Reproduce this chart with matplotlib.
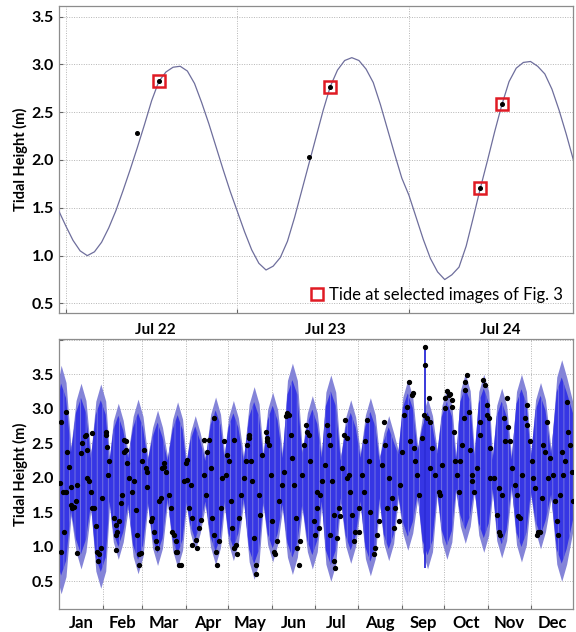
import numpy as np
import matplotlib
matplotlib.use("Agg")
import matplotlib.pyplot as plt
from matplotlib.lines import Line2D

plt.rcParams['font.family'] = ['Lato', 'DejaVu Sans']
plt.rcParams['hatch.linewidth'] = 0.6

# ---- top panel: hourly tide, Jul 22-24 (x in days from Jul 22 00:00)
hours = np.arange(-1, 72)
tide_hourly = [1.47, 1.31, 1.16, 1.05, 1.00, 1.04, 1.14, 1.29, 1.47, 1.68,
               1.90, 2.13, 2.37, 2.62, 2.82, 2.92, 2.97, 2.98, 2.93, 2.80,
               2.60, 2.38, 2.14, 1.90, 1.67, 1.46, 1.25, 1.06, 0.92, 0.85,
               0.89, 0.98, 1.15, 1.40, 1.68, 1.96, 2.24, 2.52, 2.77, 2.94,
               3.04, 3.07, 3.04, 2.95, 2.81, 2.58, 2.32, 2.06, 1.81, 1.63,
               1.40, 1.17, 0.97, 0.83, 0.75, 0.80, 0.88, 1.10, 1.40, 1.71,
               2.00, 2.30, 2.58, 2.82, 2.96, 3.02, 3.03, 2.98, 2.90, 2.74,
               2.52, 2.27, 2.00]
img_day = [0.414, 0.542, 1.417, 1.539, 2.414, 2.542]
img_tide = [2.28, 2.83, 2.03, 2.76, 1.71, 2.585]
selected = [1, 3, 4, 5]
top_labels = ['Jul 22', 'Jul 23', 'Jul 24']

# ---- bottom panel: yearly record (x in day of year)
env_day = [0, 1.5, 5.0, 8.5,
           12.1, 15.6, 19.1, 22.6, 26.1, 29.6, 33.1, 35.8,
           38.5, 42.0, 45.5, 49.0, 52.5, 56.0, 59.5, 62.9,
           66.3, 69.8, 73.3, 76.9, 80.5, 84.0, 87.5, 90.2,
           93.0, 96.5, 100.0, 103.7, 107.4, 110.9, 114.4, 117.2,
           120.0, 123.5, 127.0, 130.8, 134.7, 138.2, 141.7, 144.7,
           147.8, 151.3, 154.8, 158.3, 161.8, 165.3, 168.8, 172.3,
           175.9, 179.4, 182.9, 186.0, 189.0, 192.5, 196.0, 199.5,
           203.1, 206.6, 210.1, 213.5, 217.0, 220.5, 224.0, 227.0,
           230.0, 233.5, 237.0, 240.2, 243.5, 247.0, 250.5, 254.0,
           257.5, 261.0, 264.5, 267.8, 271.2, 274.7, 278.2, 281.2,
           284.2, 287.7, 291.2, 294.2, 297.3, 300.8, 304.3, 307.1,
           310.0, 313.5, 317.0, 320.5, 324.0, 327.5, 331.0, 334.2,
           337.5, 341.0, 344.5, 348.5, 352.5, 356.0, 359.5, 365.0]
env_hi = [3.45, 3.63, 3.38, 2.45,
          3.12, 3.37, 3.12, 2.35, 3.11, 3.36, 3.11, 2.30,
          2.83, 3.08, 2.83, 2.35, 2.89, 3.14, 2.89, 2.30,
          2.73, 2.98, 2.73, 2.30, 2.85, 3.10, 2.85, 2.25,
          2.65, 2.90, 2.65, 2.30, 2.92, 3.17, 2.92, 2.35,
          2.87, 3.12, 2.87, 2.30, 3.07, 3.32, 3.07, 2.35,
          2.99, 3.24, 2.99, 2.35, 3.41, 3.66, 3.41, 2.40,
          2.94, 3.19, 2.94, 2.35, 3.24, 3.49, 3.24, 2.30,
          2.88, 3.13, 2.88, 2.35, 2.91, 3.16, 2.91, 2.30,
          2.65, 2.90, 2.65, 2.40, 3.17, 3.42, 3.17, 2.45,
          2.90, 3.15, 2.90, 2.40, 3.05, 3.30, 3.05, 2.30,
          3.26, 3.51, 3.26, 2.35, 3.25, 3.50, 3.25, 2.30,
          3.05, 3.30, 3.05, 2.30, 3.25, 3.50, 3.25, 2.35,
          3.13, 3.38, 3.13, 2.40, 3.46, 3.71, 3.46, 3.00]
env_lo = [0.45, 0.32, 0.57, 1.45,
          0.93, 0.68, 0.93, 1.55, 0.65, 0.40, 0.65, 1.60,
          1.07, 0.82, 1.07, 1.55, 0.86, 0.61, 0.86, 1.60,
          0.98, 0.73, 0.98, 1.65, 0.95, 0.70, 0.95, 1.60,
          1.20, 0.95, 1.20, 1.60, 0.99, 0.74, 0.99, 1.60,
          1.05, 0.80, 1.05, 1.65, 0.78, 0.53, 0.78, 1.60,
          1.03, 0.78, 1.03, 1.55, 0.85, 0.60, 0.85, 1.55,
          0.93, 0.68, 0.93, 1.60, 0.75, 0.50, 0.75, 1.65,
          1.01, 0.76, 1.01, 1.60, 0.83, 0.58, 0.83, 1.65,
          1.05, 0.80, 1.05, 1.70, 1.20, 0.95, 1.20, 1.70,
          0.93, 0.68, 0.93, 1.75, 1.07, 0.82, 1.07, 1.80,
          1.30, 1.05, 1.30, 1.80, 1.17, 0.92, 1.17, 1.80,
          1.09, 0.84, 1.09, 1.85, 1.03, 0.78, 1.03, 1.75,
          1.22, 0.97, 1.22, 1.70, 0.75, 0.50, 0.75, 1.35]
spike_day = 258.9
spike_hi = 3.90
spike_lo = 0.69

obs_day = [0.6, 1.3, 4.8, 6.0, 7.2, 1.3, 3.6, 4.8, 8.3, 10.7, 11.9, 13.1, 13.1,
           15.4, 16.6, 18.5, 19.0, 20.1, 20.1, 21.3, 22.5, 23.7, 24.8, 26.0, 27.2,
           28.4, 27.9, 30.7, 33.1, 34.3, 35.5, 35.0, 39.0, 40.2, 40.2, 41.3,
           42.5, 43.7, 44.9, 46.0, 47.2, 47.2, 48.4, 49.6, 51.9, 54.3, 55.5,
           56.7, 56.7, 60.2, 61.4, 62.6, 62.6, 66.1, 67.3, 68.5, 69.6, 72.0,
           74.3, 74.4, 75.5, 77.9, 79.1, 80.2, 82.6, 83.8, 85.0, 88.5, 89.7,
           90.9, 90.9, 93.2, 94.4, 94.4, 96.8, 99.1, 100.3, 102.6, 102.7, 105.0,
           106.2, 107.4, 108.6, 109.7, 109.7, 110.9, 112.1, 114.5, 115.6, 118.0,
           119.2, 120.3, 121.5, 122.7, 123.8, 125.1, 126.2, 127.4, 131.0, 133.3,
           134.4, 134.5, 135.7, 136.8, 138.0, 139.2, 139.2, 141.6, 143.9, 146.3,
           147.5, 148.6, 149.8, 151.0, 152.2, 153.3, 155.7, 159.2, 161.1, 161.6,
           162.8, 164.0, 165.1, 166.3, 167.5, 168.7, 169.9, 172.2, 174.6, 175.8,
           178.1, 180.5, 181.6, 182.8, 184.0, 186.3, 188.7, 189.9, 191.0, 192.2,
           193.4, 194.6, 194.6, 195.7, 196.9, 199.3, 200.5, 201.6, 202.8, 204.0,
           205.2, 206.4, 207.5, 208.7, 209.9, 212.3, 214.6, 217.0, 218.2, 219.3,
           220.5, 222.9, 224.0, 226.4, 228.7, 229.9, 231.1, 233.5, 235.8, 237.0,
           238.2, 241.7, 244.1, 246.4, 247.6, 250.0, 251.0, 251.2, 252.3, 253.5,
           257.0, 258.2, 258.9, 259.4, 260.6, 261.8, 262.9, 264.1, 266.5, 268.8,
           271.2, 273.5, 273.5, 274.7, 277.1, 278.3, 279.4, 280.6, 281.8, 283.0,
           284.1, 286.5, 287.7, 288.9, 290.0, 291.2, 292.4, 293.6, 295.9, 298.3,
           300.6, 303.0, 304.2, 305.4, 307.7, 310.1, 311.3, 312.4, 313.6, 316.0,
           318.3, 319.5, 320.7, 323.0, 325.4, 326.6, 327.8, 330.1, 331.3, 333.6,
           334.8, 337.2, 338.4, 339.5, 341.9, 344.3, 345.4, 347.8, 350.1, 352.5,
           353.7, 356.0, 358.4, 359.6, 360.8, 363.1, 364.3,
           2.5, 8.3, 9.5, 23.7, 29.6, 33.1, 40.2, 46.1, 53.1, 57.9, 59.0, 64.9,
           70.8, 73.2, 81.4, 82.6, 86.1,
           92.1, 97.9, 103.8, 113.3, 116.8, 123.9, 128.6, 132.1, 142.7, 147.5,
           154.5, 158.1, 171.0, 173.4, 176.9, 182.8,
           185.1, 192.2, 198.1, 204.0, 212.2, 215.8, 225.2, 232.3, 240.5, 242.9,
           248.8, 254.7, 262.9, 270.0,
           275.9, 278.3, 285.3, 287.7, 292.4, 298.3, 301.8, 303.0, 305.4, 311.3,
           314.8, 317.1, 324.2, 331.3, 336.0, 340.7, 343.1, 346.6, 351.3, 354.9,
           357.2, 361.9]
obs_tide = [1.92, 2.81, 2.96, 2.38, 2.16, 0.93, 1.22, 1.80, 1.61, 1.58, 1.66, 0.91, 1.90,
            2.36, 2.50, 2.60, 2.62, 2.40, 1.99, 1.95, 1.80, 2.65, 1.56, 1.30, 0.93,
            0.89, 0.79, 1.71, 2.67, 2.45, 2.24, 2.04, 1.42, 1.17, 0.96, 1.22,
            1.37, 1.63, 1.75, 2.55, 2.53, 2.40, 2.21, 1.99, 1.80, 1.54, 1.17,
            0.89, 0.74, 2.40, 2.14, 2.09, 1.87, 1.42, 1.22, 1.08, 0.98, 1.71,
            2.21, 2.16, 2.09, 1.75, 1.56, 1.22, 1.08, 0.93, 0.74, 1.95, 2.21,
            2.26, 1.97, 1.90, 1.42, 1.03, 1.10, 1.27, 1.39, 2.55, 2.04, 2.38,
            2.55, 2.14, 1.42, 1.17, 2.87, 0.93, 0.74, 1.56, 1.99, 2.04,
            2.33, 2.24, 1.66, 1.27, 2.55, 1.03, 0.89, 1.42, 1.99, 2.48,
            2.62, 2.57, 2.24, 1.95, 1.13, 0.74, 0.60, 1.75, 2.33, 2.67,
            2.58, 2.48, 2.04, 1.37, 0.93, 0.89, 1.66, 2.09, 2.90, 2.94,
            2.91, 2.62, 2.28, 1.90, 1.42, 0.98, 0.74, 2.04, 2.77, 2.67,
            2.24, 1.37, 1.17, 1.56, 1.27, 1.95, 2.19, 2.77, 2.62, 2.48,
            1.95, 1.46, 0.79, 0.69, 1.13, 1.44, 2.14, 2.62, 2.84, 2.57,
            2.04, 1.80, 1.46, 1.08, 1.22, 1.56, 2.04, 2.53, 2.84, 2.24,
            1.51, 0.89, 0.98, 1.37, 2.19, 2.81, 2.48, 1.99, 1.71, 1.27,
            1.56, 1.90, 2.91, 3.03, 3.39, 3.20, 3.23, 2.43, 2.24, 2.04,
            2.57, 2.91, 3.90, 3.64, 2.86, 3.15, 2.81, 2.43, 2.04, 1.80,
            2.19, 3.01, 3.15, 3.25, 3.22, 3.03, 2.67, 2.24, 2.04, 1.80,
            2.24, 2.86, 3.39, 3.49, 2.96, 2.40, 1.95, 1.80, 2.14, 2.81,
            3.42, 3.06, 2.86, 2.43, 1.99, 1.46, 1.22, 1.17, 1.75, 2.53,
            2.74, 2.53, 2.14, 1.90, 1.44, 1.42, 2.04, 2.86, 3.06, 2.53,
            2.24, 1.85, 1.17, 1.22, 1.71, 2.38, 2.81, 2.28, 2.04, 1.37,
            1.17, 2.38, 2.24, 3.10, 2.67, 2.09, 1.66,
            1.80, 1.87, 1.56, 1.56, 0.98, 2.62, 1.32, 2.38, 1.95, 0.91, 2.24, 1.37,
            1.66, 2.14, 1.17, 0.93, 0.74,
            1.56, 0.98, 1.75, 1.08, 2.53, 0.98, 1.75, 2.24, 1.46, 2.53,
            1.08, 1.90, 1.08, 2.48, 2.62, 1.80,
            1.75, 1.17, 1.56, 1.99, 1.22, 1.80, 1.17, 1.56, 1.37, 2.38,
            2.53, 1.75, 2.14, 1.75,
            3.20, 3.13, 2.48, 3.27, 2.04, 2.62, 3.35, 2.91, 1.99, 1.85,
            2.86, 3.15, 1.75, 2.77, 1.99, 1.22, 2.48, 1.99, 1.66, 1.75,
            2.04, 2.48]
months = ['Jan', 'Feb', 'Mar', 'Apr', 'May', 'Jun', 'Jul', 'Aug', 'Sep',
          'Oct', 'Nov', 'Dec']
month_len = [31, 28, 31, 30, 31, 30, 31, 31, 30, 31, 30, 31]

frame_col = '#8c8c8c'
grid_kw = dict(color='#b5b5b5', linestyle=(0, (1, 1.5)), linewidth=0.7)

fig = plt.figure(figsize=(5.76, 6.32), dpi=100)
ax1 = fig.add_axes([0.1024, 0.5047, 0.8924, 0.4858])
ax2 = fig.add_axes([0.1024, 0.0364, 0.8924, 0.4272])

# top panel
t_day = hours / 24.0
ax1.plot(t_day, tide_hourly, color='#6e6e9c', lw=0.9, zorder=3)
ax1.plot(img_day, img_tide, 'o', color='black', ms=2.6, zorder=5)
sel_day = [img_day[i] for i in selected]
sel_tide = [img_tide[i] for i in selected]
ax1.plot(sel_day, sel_tide, 's', ms=8.5, mfc='none', mec='#e01b24', mew=1.8,
         zorder=4)
ax1.set_xlim(-0.04, 2.956)
ax1.set_ylim(0.40, 3.61)
ax1.set_yticks([0.5, 1.0, 1.5, 2.0, 2.5, 3.0, 3.5])
ax1.set_yticklabels(['0.5', '1.0', '1.5', '2.0', '2.5', '3.0', '3.5'])
ax1.set_xticks([0, 1, 2])
ax1.set_xticklabels([])
ax1.set_xticks([0.52, 1.51, 2.53], minor=True)
ax1.set_xticklabels(top_labels, minor=True)
ax1.tick_params(axis='x', which='minor', length=0, pad=7, labelsize=11)
ax1.set_ylabel('Tidal Height (m)', fontsize=10.5, fontweight='bold', labelpad=3)
leg = ax1.legend([Line2D([], [], ls='none', marker='s', ms=8.5, mfc='none',
                         mec='#e01b24', mew=1.8)],
                 ['Tide at selected images of Fig. 3'], loc='lower right',
                 frameon=False, fontsize=12, handletextpad=0.15,
                 handlelength=1.2, borderaxespad=0.2)

# bottom panel
env_hi_a = np.array(env_hi)
env_lo_a = np.array(env_lo)
mid = (env_hi_a + env_lo_a) / 2
half = (env_hi_a - env_lo_a) / 2
ax2.fill_between(env_day, env_lo, env_hi, color='#8484d8', lw=0, zorder=2)
ax2.fill_between(env_day, mid - 0.84 * half, mid + 0.84 * half,
                 facecolor='#3636e4', edgecolor='#7c7ce2', hatch='|||',
                 lw=0, zorder=2)
ax2.vlines(spike_day, spike_lo, spike_hi, color='#2a2ad8', lw=1.3, zorder=3)
ax2.plot(obs_day, obs_tide, 'o', color='black', ms=2.8, zorder=4)
ax2.set_xlim(0, 364)
ax2.set_ylim(0.10, 4.01)
ax2.set_yticks([0.5, 1.0, 1.5, 2.0, 2.5, 3.0, 3.5, 4.0])
ax2.set_yticklabels(['0.5', '1.0', '1.5', '2.0', '2.5', '3.0', '3.5', ''])
month_start = np.cumsum([0] + month_len[:-1])
ax2.set_xticks(month_start[1:])
ax2.set_xticklabels([])
ax2.set_xticks(month_start + np.array(month_len) / 2.0, minor=True)
ax2.set_xticklabels(months, minor=True)
ax2.tick_params(axis='x', which='minor', length=0, pad=4, labelsize=12)
ax2.set_ylabel('Tidal Height (m)', fontsize=10.5, fontweight='bold', labelpad=3)

for ax in (ax1, ax2):
    ax.grid(True, which='major', **grid_kw)
    ax.set_axisbelow(True)
    for s in ax.spines.values():
        s.set_color(frame_col)
        s.set_linewidth(0.9)
    ax.tick_params(which='major', direction='in', length=3, color='#666666',
                   top=False, right=False)
    ax.tick_params(axis='y', which='major', labelsize=11.5)
    for lab in ax.get_xticklabels(minor=True) + ax.get_yticklabels():
        lab.set_fontweight('bold')

fig.savefig('out.png', dpi=100)
